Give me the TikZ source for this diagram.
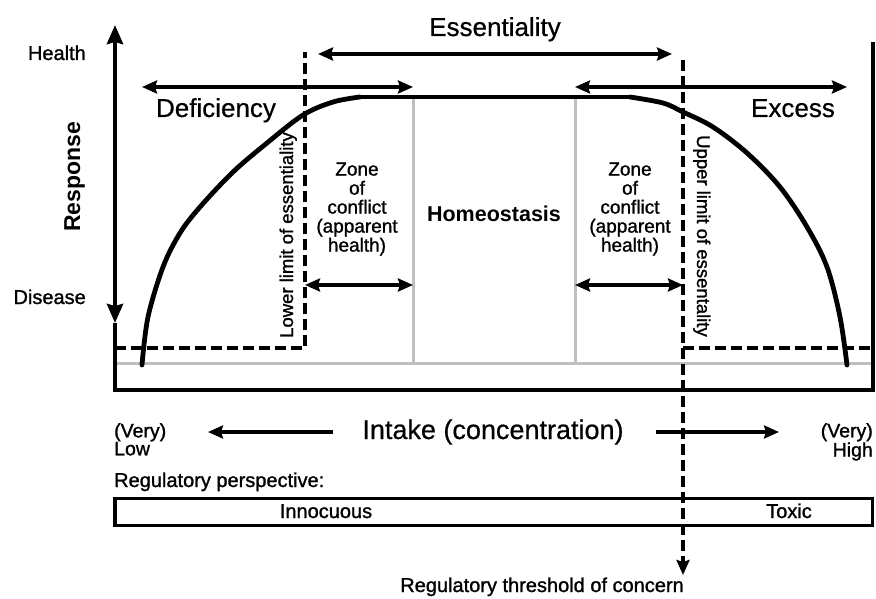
\documentclass[tikz,border=0pt]{standalone}
\usepackage{fontspec}
\setmainfont{Liberation Sans}
\newfontfamily\heavy[FakeBold=1.2]{Liberation Sans}
\newfontfamily\semiheavy[FakeBold=0.6]{Liberation Sans}
\usetikzlibrary{arrows.meta}
\begin{document}
\begin{tikzpicture}[x=1pt,y=-1pt,
  frame/.style={line width=4pt},
  arr/.style={line width=3.2pt},
  tipboth/.style={{Stealth[length=15pt,width=13pt,inset=2pt]}-{Stealth[length=15pt,width=13pt,inset=2pt]}},
  tipend/.style={-{Stealth[length=15pt,width=13pt,inset=2pt]}},
  axtips/.style={{Stealth[length=19pt,width=16pt,inset=2pt]}-{Stealth[length=19pt,width=16pt,inset=2pt]}},
  dashedline/.style={line width=3.8pt, dash pattern=on 11pt off 5pt},
  grayline/.style={line width=3pt, draw=black!25},
  curve/.style={line width=4.8pt, line cap=round, line join=round},
  lbl/.style={inner sep=0pt, font=\heavy\fontsize{20}{20}\selectfont},
  big/.style={inner sep=0pt, font=\semiheavy\fontsize{26}{26}\selectfont},
  zone/.style={inner sep=0pt, align=center, font=\heavy\fontsize{19}{19}\selectfont},
  vert/.style={inner sep=0pt, font=\heavy\fontsize{18.5}{18.5}\selectfont}
]
\useasboundingbox (0,0) rectangle (876,599);

% named points
\coordinate (axTop) at (115,25);
\coordinate (axDown) at (115,323);
\coordinate (axBot) at (115,390);
\coordinate (brBot) at (873,390);
\coordinate (brTop) at (873,42);
\coordinate (gL) at (115,363);
\coordinate (gR) at (873,363);
\coordinate (g1t) at (413,97);
\coordinate (g1b) at (413,363);
\coordinate (g2t) at (575,97);
\coordinate (g2b) at (575,363);
\coordinate (lo1) at (115,348);
\coordinate (lo2) at (305,348);
\coordinate (lo3) at (305,52);
\coordinate (up1) at (683,60);
\coordinate (up2) at (683,575);
\coordinate (upm) at (683,348);
\coordinate (upr) at (873,348);
\coordinate (plL) at (360,97);
\coordinate (plR) at (630,97);

% gray guide lines
\draw[grayline] (gL) -- (gR);
\draw[grayline] (g1t) -- (g1b);
\draw[grayline] (g2t) -- (g2b);

% response curve
\draw[curve] plot[smooth, tension=0.55] coordinates {(142,365) (148,317) (163,267) (180,233) (200,207) (233,172) (267,143) (303,115) (333,102) (360,97)};
\draw[curve] (plL) -- (plR);
\draw[curve] plot[smooth, tension=0.55] coordinates {(630,97) (663,103) (683,112) (713,127) (747,153) (780,187) (807,227) (827,267) (840,317) (847,365)};

% frame
\draw[frame] (axDown) -- (axBot) -- (brBot) -- (brTop);
\draw[frame, axtips] (axTop) -- (axDown);

% regulatory box
\draw[line width=3.8pt] (115,498.5) rectangle (872.5,525.5);

% dashed limits
\draw[dashedline] (lo1) -- (lo2) -- (lo3);
\draw[dashedline] (upm) -- (upr);
\draw[dashedline, tipend] (up1) -- (up2);

% range arrows
\coordinate (esL) at (318,54);
\coordinate (esR) at (672,54);
\coordinate (deL) at (142,87);
\coordinate (deR) at (413,87);
\coordinate (exL) at (575,87);
\coordinate (exR) at (847,87);
\coordinate (z1L) at (305,285);
\coordinate (z1R) at (413,285);
\coordinate (z2L) at (575,285);
\coordinate (z2R) at (683,285);
\draw[arr, tipboth] (esL) -- (esR);
\draw[arr, tipboth] (deL) -- (deR);
\draw[arr, tipboth] (exL) -- (exR);
\draw[arr, tipboth] (z1L) -- (z1R);
\draw[arr, tipboth] (z2L) -- (z2R);

% intake arrows
\coordinate (inLs) at (333,432);
\coordinate (inLe) at (208,432);
\coordinate (inRs) at (656,432);
\coordinate (inRe) at (779,432);
\draw[arr, tipend] (inLs) -- (inLe);
\draw[arr, tipend] (inRs) -- (inRe);

% texts
\node[big, anchor=base] (ess) at (495,36) {Essentiality};
\node[big, anchor=base] (def) at (216,117) {Deficiency};
\node[big, anchor=base] (exc) at (793,117) {Excess};
\node[lbl, anchor=base east] (hea) at (86,60) {Health};
\node[lbl, anchor=base east] (dis) at (86,304) {Disease};
\node[inner sep=0pt, anchor=base, rotate=90, font=\fontsize{23}{23}\selectfont\bfseries] (resp) at (80,177) {Response};
\node[vert, anchor=base, rotate=90] (lowlim) at (293,235) {Lower limit of essentiality};
\node[vert, anchor=base, rotate=-90] (uplim) at (697,236) {Upper limit of essentality};
\node[zone] (zone1) at (357,209) {Zone\\of\\conflict\\(apparent\\health)};
\node[zone] (zone2) at (630,209) {Zone\\of\\conflict\\(apparent\\health)};
\node[inner sep=0pt, anchor=base, font=\fontsize{21.5}{21.5}\selectfont\bfseries] (homeo) at (494,222) {Homeostasis};

\node[inner sep=0pt, anchor=base, font=\semiheavy\fontsize{27}{27}\selectfont] (intake) at (493,439) {Intake (concentration)};
\node[inner sep=0pt, anchor=north west, align=left, font=\heavy\fontsize{19.5}{18}\selectfont] (vlow) at (114,423) {(Very)\\Low};
\node[inner sep=0pt, anchor=north east, align=right, font=\heavy\fontsize{19.5}{18}\selectfont] (vhigh) at (873,423) {(Very)\\High};
\node[lbl, anchor=base west] (regp) at (114,487) {Regulatory perspective:};
\node[lbl, anchor=base] (inno) at (326,518) {Innocuous};
\node[lbl, anchor=base] (toxic) at (789,518) {Toxic};
\node[lbl, anchor=base east] (thr) at (684,592) {Regulatory threshold of concern};
\end{tikzpicture}
\end{document}
